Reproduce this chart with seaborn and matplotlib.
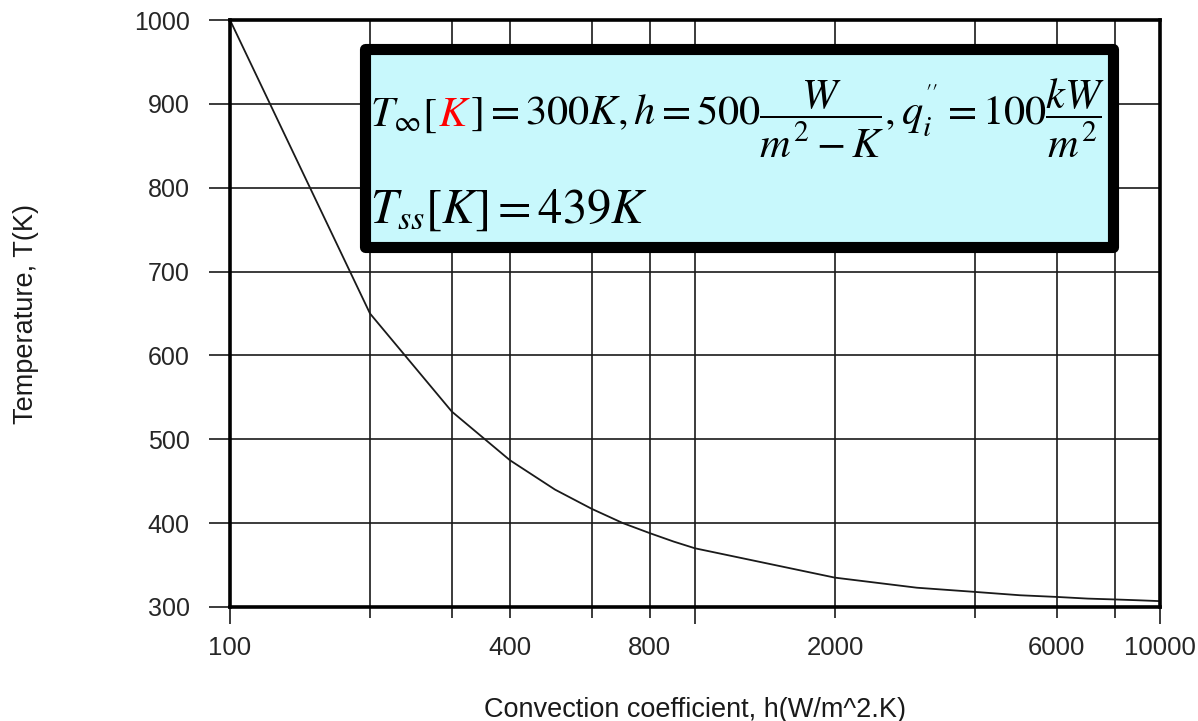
import numpy as np
import pandas as pd
import seaborn as sns
import matplotlib.pyplot as plt
from matplotlib.patches import Rectangle
from matplotlib.ticker import FixedLocator, FixedFormatter

# convection coefficient h (W/m^2.K) vs steady temperature (K)
h_values = [100, 200, 300, 400, 500, 600, 700, 800, 900, 1000,
            2000, 3000, 4000, 5000, 6000, 7000, 8000, 9000, 10000]
temps = [1000, 650, 533, 475, 440, 417, 400, 388, 378, 370,
         335, 323, 318, 314, 312, 310, 309, 308, 307]

major_x = [100, 1000, 10000]
major_x_labels = ["100", "", "10000"]
minor_x = [200, 300, 400, 600, 800, 2000, 4000, 6000, 8000]
minor_x_labels = ["", "", "400", "", "800", "2000", "", "6000", ""]
y_ticks = [300, 400, 500, 600, 700, 800, 900, 1000]

W, H = 1198, 721

sns.set_style("ticks")
plt.rcParams["font.family"] = ["Liberation Sans", "DejaVu Sans"]
plt.rcParams["mathtext.fontset"] = "stix"

fig = plt.figure(figsize=(W / 100, H / 100), dpi=100)
ax = fig.add_axes([230 / W, 1 - 607 / H, 930 / W, 587 / H])

df = pd.DataFrame({"h": h_values, "T": temps})
ax.set_xscale("log")
sns.lineplot(data=df, x="h", y="T", ax=ax, color="#1a1a1a", lw=1.3, zorder=3)
ax.set_xlim(100, 10000)
ax.set_ylim(300, 1000)

ax.xaxis.set_major_locator(FixedLocator(major_x))
ax.xaxis.set_major_formatter(FixedFormatter(major_x_labels))
ax.xaxis.set_minor_locator(FixedLocator(minor_x))
ax.xaxis.set_minor_formatter(FixedFormatter(minor_x_labels))
ax.set_yticks(y_ticks)

ax.tick_params(axis="x", which="major", length=12, width=1.2, pad=8.6, labelsize=18.5, color="#1a1a1a")
ax.tick_params(axis="x", which="minor", length=8, width=1.2, pad=13, labelsize=18.5, color="#1a1a1a")
ax.tick_params(axis="y", length=15, width=1.2, pad=14, labelsize=18, color="#1a1a1a")

ax.grid(True, which="both", axis="x", color="#1a1a1a", lw=1.2)
ax.grid(True, which="major", axis="y", color="#1a1a1a", lw=1.2)
for s in ax.spines.values():
    s.set_linewidth(2.6)
    s.set_color("black")
    s.set_zorder(4)

ax.set_xlabel("Convection coefficient, h(W/m^2.K)", fontsize=19.5, color="#1a1a1a")
ax.set_ylabel("Temperature, T(K)", fontsize=19.5, color="#1a1a1a")
ax.xaxis.set_label_coords(0.5, -(697 - 607) / 587)
ax.yaxis.set_label_coords((39 - 230) / 930, 0.5)

# annotation box
box = Rectangle((365 / W, 1 - 247 / H), 748 / W, 198 / H, transform=fig.transFigure,
                facecolor="#c8f8fc", edgecolor="black", lw=8, joinstyle="round", zorder=5)
fig.add_artist(box)

renderer = fig.canvas.get_renderer()


def put_line(pieces, x_px, base_px, size):
    x = x_px / W
    for s, c in pieces:
        t = fig.text(x, 1 - base_px / H, s, color=c, fontsize=size, ha="left", va="baseline", zorder=6)
        x += t.get_window_extent(renderer).width / fig.bbox.width


put_line([(r"$T_{\infty}[$", "black"), (r"$K$", "red"),
          (r"$]=300K, h=500\dfrac{W}{m^2-K}, q_i^{''}=100\dfrac{kW}{m^2}$", "black")],
         370, 126, 30.5)
put_line([(r"$T_{ss}[K]=439K$", "black")], 370, 223, 35)

fig.savefig("out.png", dpi=100)
